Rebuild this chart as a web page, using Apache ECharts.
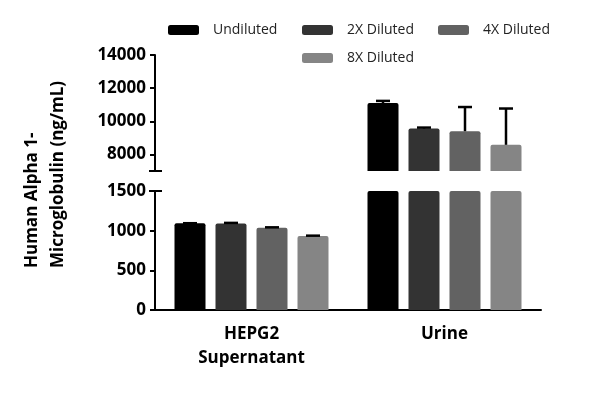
<!DOCTYPE html>
<html><head><meta charset="utf-8">
<script src="https://cdn.jsdelivr.net/npm/echarts@6/dist/echarts.min.js"></script>
<style>html,body{margin:0;padding:0;background:#fff}#c{width:600px;height:394px}</style>
</head><body><div id="c"></div>
<script>
const categories = ['HEPG2\nSupernatant', 'Urine'];
const seriesNames = ['Undiluted', '2X Diluted', '4X Diluted', '8X Diluted'];
const undiluted = [1092, 11100];
const dil2x = [1090, 9560];
const dil4x = [1037, 9400];
const dil8x = [932, 8580];
const errUndiluted = [2, 130];
const err2x = [8, 60];
const err4x = [5, 1460];
const err8x = [5, 2190];
const topTicks = [8000, 10000, 12000, 14000];
const bottomTicks = [0, 500, 1000, 1500];
const yTitle1 = 'Human Alpha 1-';
const yTitle2 = 'Microglobulin (ng/mL)';

const values = [undiluted, dil2x, dil4x, dil8x];
const errs = [errUndiluted, err2x, err4x, err8x];
const colors = ['#000000', '#333333', '#626262', '#858585'];
const FONT = '"Open Sans"';
const barW = 31, barGapPx = 10;
const ranges = [[7000, 14000], [0, 1500]];

const chart = echarts.init(document.getElementById('c'), null, {renderer: 'canvas'});

const series = [];
for (let g = 0; g < 2; g++) {
  for (let i = 0; i < 4; i++) {
    series.push({
      type: 'bar', name: seriesNames[i], xAxisIndex: g, yAxisIndex: g,
      data: values[i], barWidth: barW, barGap: (barGapPx / barW * 100) + '%',
      itemStyle: {color: colors[i], borderRadius: [2, 2, 0, 0]},
      clip: true, animation: false, silent: true
    });
  }
  for (let i = 0; i < 4; i++) {
    const data = [];
    values[i].forEach((v, k) => {
      if (v >= ranges[g][0] && v + errs[i][k] <= ranges[g][1]) data.push([k, v, v + errs[i][k]]);
    });
    const off = (i - 1.5) * (barW + barGapPx);
    series.push({
      type: 'custom', name: seriesNames[i] + ' err', xAxisIndex: g, yAxisIndex: g,
      data: data, animation: false, silent: true, z: 5,
      renderItem: function (params, api) {
        const p0 = api.coord([api.value(0), api.value(1)]);
        const p1 = api.coord([api.value(0), api.value(2)]);
        const x = p0[0] + off;
        const style = {stroke: '#000', lineWidth: 2.5, fill: null};
        return {type: 'group', children: [
          {type: 'line', shape: {x1: x, y1: p0[1], x2: x, y2: p1[1]}, style: style},
          {type: 'line', shape: {x1: x - 7, y1: p1[1], x2: x + 7, y2: p1[1]}, style: style}
        ]};
      }
    });
  }
}

const legendPos = [[168, 23], [302, 23], [438, 23], [302, 51]];
const legends = seriesNames.map((n, i) => ({
  data: [n], left: legendPos[i][0], top: legendPos[i][1], icon: 'roundRect',
  itemWidth: 31, itemHeight: 10, padding: 0, selectedMode: false,
  textStyle: {fontFamily: FONT, fontSize: 14, color: '#222', padding: [0, 0, 0, 9]}
}));

const axisLineStyle = {color: '#000', width: 2};
const labelStyle = {fontFamily: FONT, fontSize: 17, fontWeight: 'bold', color: '#000'};
const plain = v => String(v);

chart.setOption({
  animation: false,
  legend: legends,
  grid: [
    {left: 155, right: 59, top: 55, height: 116},
    {left: 155, right: 59, top: 191, height: 119}
  ],
  xAxis: [
    {type: 'category', gridIndex: 0, data: categories, show: false},
    {type: 'category', gridIndex: 1, data: categories,
     axisLine: {lineStyle: axisLineStyle},
     axisTick: {alignWithLabel: true, length: 6, lineStyle: {width: 2, color: '#000'}},
     axisLabel: Object.assign({margin: 12, lineHeight: 24, interval: 0}, labelStyle)}
  ],
  yAxis: [
    {type: 'value', gridIndex: 0, min: ranges[0][0], max: ranges[0][1],
     axisLine: {show: true, lineStyle: axisLineStyle},
     axisTick: {show: true, length: 5, lineStyle: {width: 2, color: '#000'}, customValues: topTicks},
     axisLabel: Object.assign({margin: 9, customValues: topTicks, formatter: plain}, labelStyle),
     splitLine: {show: false}},
    {type: 'value', gridIndex: 1, min: ranges[1][0], max: ranges[1][1],
     axisLine: {show: true, lineStyle: axisLineStyle},
     axisTick: {show: true, length: 5, lineStyle: {width: 2, color: '#000'}, customValues: bottomTicks},
     axisLabel: Object.assign({margin: 9, customValues: bottomTicks, formatter: plain}, labelStyle),
     splitLine: {show: false}}
  ],
  series: series
});

// axis break markers and y title
const pTopMin = chart.convertToPixel({yAxisIndex: 0}, ranges[0][0]);
const pBotMax = chart.convertToPixel({yAxisIndex: 1}, ranges[1][1]);
const c0 = chart.convertToPixel({xAxisIndex: 1}, 0), c1 = chart.convertToPixel({xAxisIndex: 1}, 1);
const axisX = c0 - (c1 - c0) / 2;
const brk = {stroke: '#000', lineWidth: 2};
chart.setOption({
  graphic: [
    {type: 'line', shape: {x1: axisX - 6, y1: pTopMin, x2: axisX + 7, y2: pTopMin}, style: brk},
    {type: 'line', shape: {x1: axisX - 6, y1: pBotMax, x2: axisX + 7, y2: pBotMax}, style: brk},
    {type: 'text', x: 32, y: 268, rotation: Math.PI / 2,
     style: {text: yTitle1, font: 'bold 17px ' + FONT, fill: '#000', align: 'left', verticalAlign: 'middle'}},
    {type: 'text', x: 58, y: 268, rotation: Math.PI / 2,
     style: {text: yTitle2, font: 'bold 17px ' + FONT, fill: '#000', align: 'left', verticalAlign: 'middle'}}
  ]
});
</script></body></html>
